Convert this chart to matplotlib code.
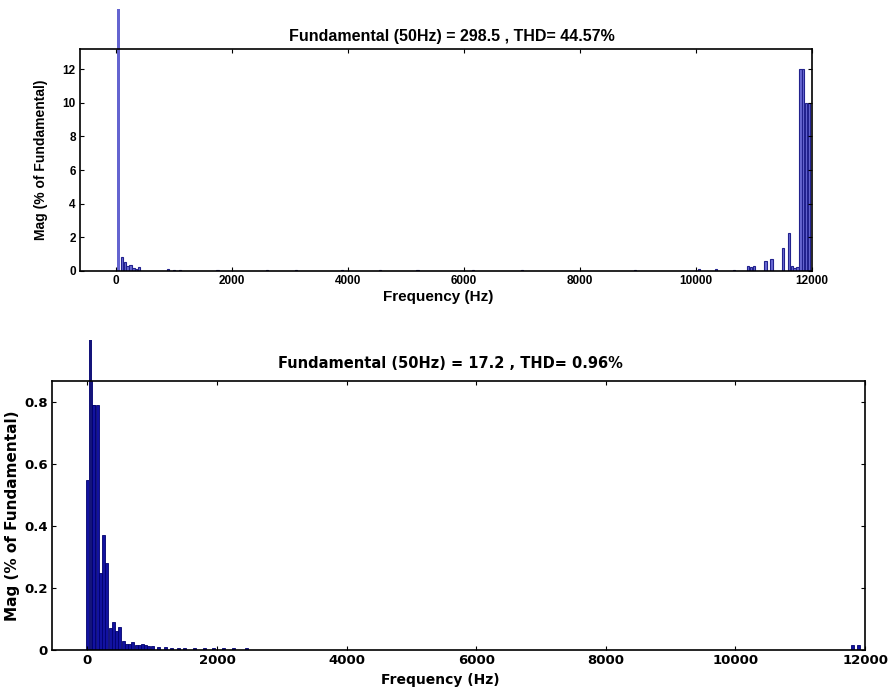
import numpy as np
import matplotlib
matplotlib.use("Agg")
import matplotlib.pyplot as plt

# upper spectrum (Hz, % of fundamental); the 50 Hz bin is off-scale
freq_top = [50, 100, 150, 200, 250, 300, 350, 400, 900, 1000, 1100, 1750,
            2600, 3100, 3900, 4550, 5200, 6150, 7000, 8950, 10050, 10350,
            10650, 10900, 10950, 11000, 11200, 11300, 11500, 11600, 11650,
            11700, 11750, 11800, 11850, 11900, 11950]
mag_top = [15.6, 0.85, 0.55, 0.3, 0.34, 0.15, 0.1, 0.24, 0.1, 0.05, 0.06, 0.05,
           0.04, 0.05, 0.08, 0.06, 0.04, 0.04, 0.05, 0.05, 0.1, 0.1,
           0.06, 0.3, 0.25, 0.3, 0.6, 0.7, 1.35, 2.26, 0.3,
           0.2, 0.25, 12.0, 12.0, 10.0, 10.0]
title_top = "Fundamental (50Hz) = 298.5 , THD= 44.57%"

# lower spectrum (fundamental is the second entry)
freq_bot = [0, 50, 100, 150, 200, 250, 300, 350, 400, 450, 500, 550, 600, 650,
            700, 750, 800, 850, 900, 950, 1000, 1100, 1200, 1300, 1400, 1500,
            1650, 1800, 1950, 2100, 2250, 2450, 11800, 11900]
mag_bot = [0.55, 1.0, 0.79, 0.79, 0.25, 0.37, 0.28, 0.07, 0.09, 0.06, 0.073,
           0.03, 0.02, 0.02, 0.025, 0.015, 0.015, 0.02, 0.015, 0.012, 0.012,
           0.01, 0.01, 0.008, 0.008, 0.007, 0.007, 0.006, 0.006, 0.005, 0.005,
           0.005, 0.015, 0.015]
title_bot = "Fundamental (50Hz) = 17.2 , THD= 0.96%"

xticks = [0, 2000, 4000, 6000, 8000, 10000, 12000]

fig = plt.figure(figsize=(8.91, 6.95), dpi=100)

# --- top panel
ax1 = fig.add_axes([0.0898, 0.6101, 0.8215, 0.3194])
ax1.bar(freq_top[1:], mag_top[1:], width=40, color="#6a6ad4", edgecolor="#22228e", linewidth=0.8)
fund = ax1.bar(freq_top[:1], mag_top[:1], width=50, color="#6464d0", linewidth=0)
fund[0].set_clip_on(False)
ax1.set_xlim(-620, 12000)
ax1.set_ylim(0, 13.2)
ax1.set_yticks([0, 2, 4, 6, 8, 10, 12])
ax1.set_xticks(xticks)
ax1.tick_params(direction="in", top=True, right=True, labelsize=8.5, length=3, pad=3)
ax1.set_title(title_top, fontsize=11.5, family="Liberation Sans", weight="bold", pad=6, x=0.508)
ax1.set_xlabel("Frequency (Hz)", fontsize=11, family="Liberation Sans", weight="bold", labelpad=0)
ax1.set_ylabel("Mag (% of Fundamental)", fontsize=10, family="Liberation Sans", weight="bold")
ax1.yaxis.set_label_coords(-0.044, 0.5)
ax1.xaxis.set_label_coords(0.49, -0.085)
for lab in ax1.get_xticklabels() + ax1.get_yticklabels():
    lab.set_family("Liberation Sans")
    lab.set_weight("bold")
for s in ax1.spines.values():
    s.set_linewidth(1.2)

# --- bottom panel
ax2 = fig.add_axes([0.0584, 0.0647, 0.9125, 0.3871])
ax2.bar(freq_bot, mag_bot, width=46, color="#1212a0", edgecolor="#00006e", linewidth=0.6)
fund2 = ax2.bar(freq_bot[1:2], mag_bot[1:2], width=38, color="#14147a", linewidth=0)
fund2[0].set_clip_on(False)
ax2.bar(freq_bot[2:3], mag_bot[2:3], width=46, color="#1212a0", edgecolor="#00006e", linewidth=0.6)
ax2.set_xlim(-546, 12000)
ax2.set_ylim(0, 0.869)
ax2.set_yticks([0, 0.2, 0.4, 0.6, 0.8])
ax2.set_yticklabels(["0", "0.2", "0.4", "0.6", "0.8"])
ax2.set_xticks(xticks)
ax2.tick_params(direction="in", top=True, right=True, labelsize=9.5, length=3, pad=3)
ax2.set_title(title_bot, fontsize=10.5, weight="bold", pad=9, x=0.49)
ax2.set_xlabel("Frequency (Hz)", fontsize=10, weight="bold")
ax2.set_ylabel("Mag (% of Fundamental)", fontsize=11, weight="bold")
ax2.yaxis.set_label_coords(-0.039, 0.5)
ax2.xaxis.set_label_coords(0.478, -0.085)
for lab in ax2.get_xticklabels() + ax2.get_yticklabels():
    lab.set_weight("bold")
for s in ax2.spines.values():
    s.set_linewidth(1.2)

fig.savefig("out.png", dpi=100)
